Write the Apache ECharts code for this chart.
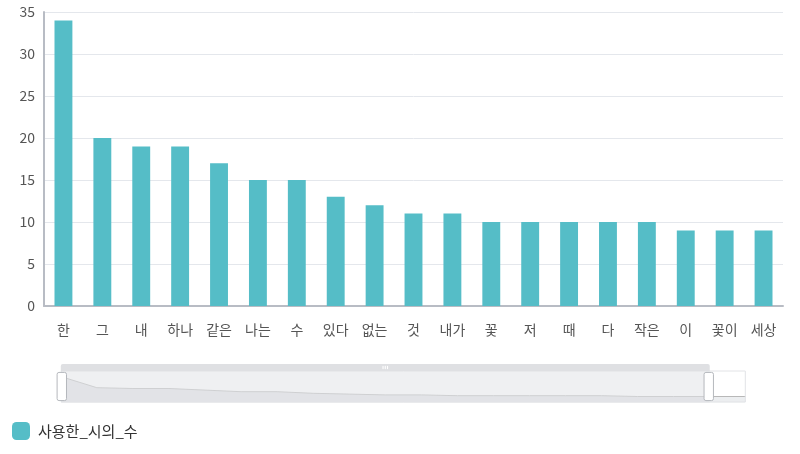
<!DOCTYPE html>
<html>
<head>
<meta charset="utf-8">
<script src="https://cdn.jsdelivr.net/npm/echarts@6/dist/echarts.min.js"></script>
<style>
  html, body { margin: 0; padding: 0; background: #fff; }
  #main { width: 800px; height: 454px; }
</style>
</head>
<body>
<div id="main"></div>
<script>
// 시에 사용된 단어 빈도
var categories = ['한', '그', '내', '하나', '같은', '나는', '수', '있다', '없는', '것',
                  '내가', '꽃', '저', '때', '다', '작은', '이', '꽃이', '세상', '너'];
var poemCounts = [34, 20, 19, 19, 17, 15, 15, 13, 12, 11, 11, 10, 10, 10, 10, 10, 9, 9, 9, 9];
var yTicks = [0, 5, 10, 15, 20, 25, 30, 35];

window.onload = function () {
    var myChart = echarts.init(document.getElementById('main'));
    var font = "'Noto Sans CJK KR', 'Noto Sans', sans-serif";

    var option = {
        animation: false,
        textStyle: { fontFamily: font },
        grid: { left: 44, right: 17, top: 12, bottom: 148 },
        legend: {
            left: 7,
            bottom: 9,
            itemWidth: 18,
            itemHeight: 18,
            icon: 'roundRect',
            textStyle: { fontSize: 15, color: '#333', fontFamily: font, padding: [0, 0, 0, 3] },
            data: ['사용한_시의_수']
        },
        xAxis: {
            type: 'category',
            data: categories,
            axisLine: { lineStyle: { color: '#b8bcc4', width: 2 } },
            axisTick: { alignWithLabel: true, length: 6, lineStyle: { color: '#b8bcc4' } },
            axisLabel: { fontSize: 14, color: '#555', margin: 17, fontFamily: font }
        },
        yAxis: {
            type: 'value',
            min: yTicks[0],
            max: yTicks[yTicks.length - 1],
            interval: 5,
            axisLine: { show: true, lineStyle: { color: '#b8bcc4', width: 2 } },
            axisLabel: { fontSize: 14, color: '#555', margin: 9, fontFamily: font },
            splitLine: { lineStyle: { color: '#e4e7ec' } }
        },
        dataZoom: [{
            type: 'slider',
            xAxisIndex: 0,
            start: 0,
            end: 18 / 19 * 100,
            left: 58,
            right: 57,
            top: 364,
            height: 32,
            showDetail: false,
            backgroundColor: 'rgba(0,0,0,0)',
            borderColor: '#e2e3e6',
            fillerColor: 'rgba(226,228,232,0.55)',
            dataBackground: {
                lineStyle: { color: '#b8b8b8', width: 1 },
                areaStyle: { color: '#eceef0', opacity: 1 }
            },
            selectedDataBackground: {
                lineStyle: { color: '#b8b8b8', width: 1 },
                areaStyle: { color: '#e2e3e6', opacity: 1 }
            },
            handleIcon: 'path://M2,0h6a2,2,0,0,1,2,2v26a2,2,0,0,1-2,2h-6a2,2,0,0,1-2-2v-26a2,2,0,0,1,2-2Z',
            handleSize: '88%',
            handleStyle: { color: '#fff', borderColor: '#b5b8bd' },
            moveHandleStyle: { color: '#dfe0e3', opacity: 1 },
            emphasis: { moveHandleStyle: { color: '#cfd0d4' } }
        }],
        series: [{
            name: '사용한_시의_수',
            type: 'bar',
            barWidth: '46%',
            itemStyle: { color: '#55bdc7' },
            data: poemCounts
        }]
    };

    myChart.setOption(option);
};
</script>
</body>
</html>
